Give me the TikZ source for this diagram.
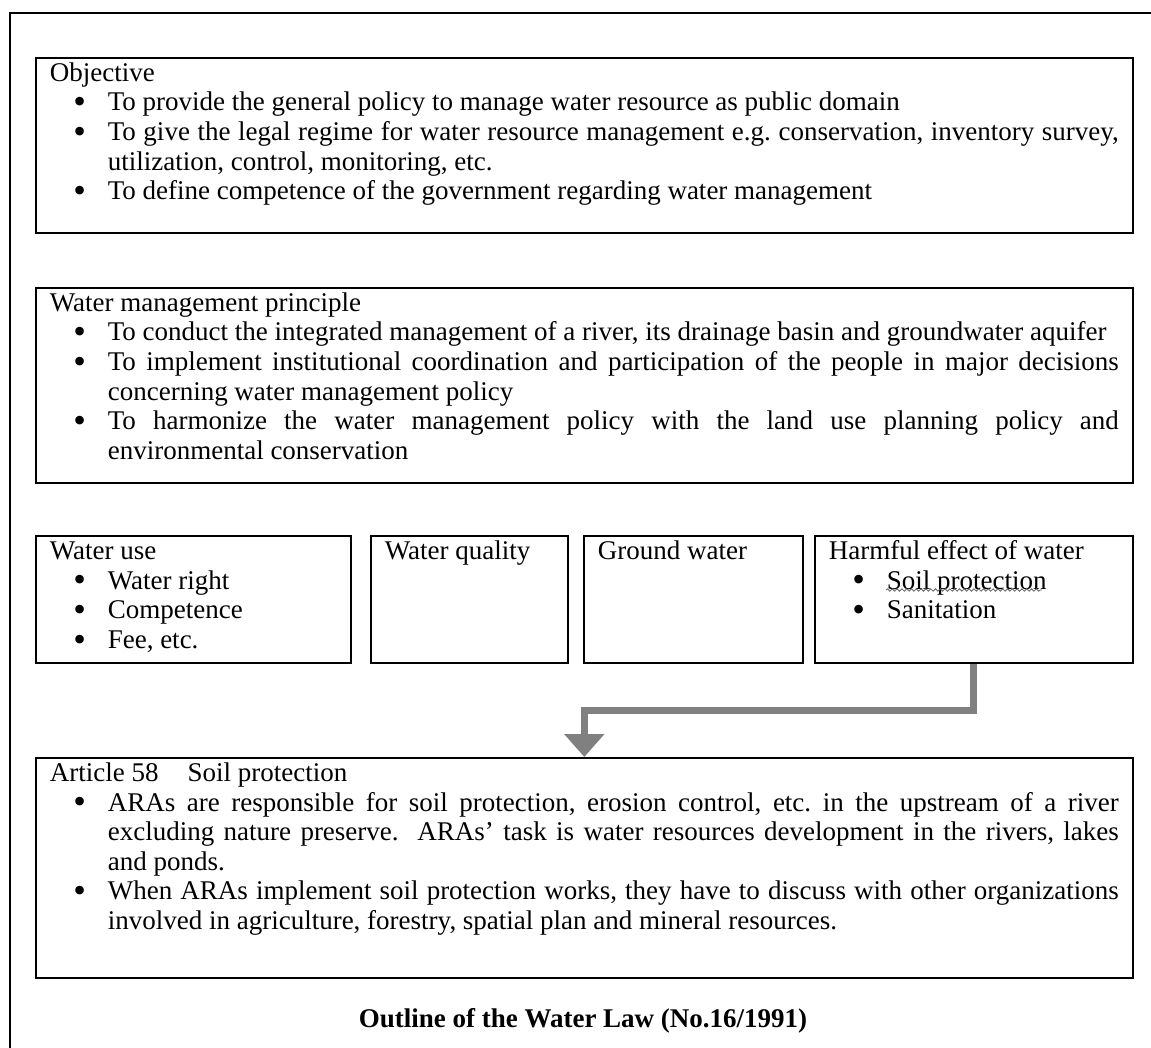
\documentclass[tikz,border=0pt]{standalone}
\usepackage{fontspec}
\setmainfont{Liberation Serif}
\usetikzlibrary{arrows.meta,decorations.pathmorphing}
\tolerance=10000
\hyphenpenalty=10000
\frenchspacing

\newcommand{\dotmark}{\smash{\raisebox{-1.4pt}{\fontsize{18pt}{10pt}\selectfont\textbullet}}}
\newenvironment{dotlist}{%
  \begin{list}{\dotmark}{%
    \setlength{\topsep}{0pt}\setlength{\partopsep}{0pt}%
    \setlength{\itemsep}{0pt}\setlength{\parsep}{0pt}%
    \setlength{\leftmargin}{29pt}\setlength{\labelwidth}{29pt}%
    \setlength{\labelsep}{0pt}\setlength{\itemindent}{0pt}%
    \renewcommand{\makelabel}[1]{\hskip11.8pt##1\hfil}}}%
  {\end{list}}

\tikzset{
  panel/.style={draw, line width=0.8pt, anchor=north west, align=justify,
    inner xsep=7pt, inner ysep=3pt, text height=8.8pt,
    font=\fontsize{13.5pt}{14.8pt}\selectfont},
  flow/.style={draw=black!50, line width=3.5pt,
    -{Triangle[width=19.5pt,length=11.5pt]}},
  squiggle/.style={draw=black!60, line width=0.4pt, decorate,
    decoration={snake, amplitude=0.6pt, segment length=2.4pt}},
}

\begin{document}
\begin{tikzpicture}[x=0.5pt, y=-0.5pt]
  \useasboundingbox (0,0) rectangle (1151,1048);
  % Outer frame (only top and left edge on the page)
  \draw[line width=1pt] (10,1048) -- (10,13) -- (1151,13);
  % Objective
  \node[panel, text width=534.5pt, text depth=72.7pt] (objective) at (35,57) {Objective
    \begin{dotlist}
      \item To provide the general policy to manage water resource as public domain
      \item To give the legal regime for water resource management e.g. conservation, inventory survey,\linebreak
        utilization, control, monitoring, etc.
      \item To define competence of the government regarding water management
    \end{dotlist}};
  % Principle
  \node[panel, text width=534.5pt, text depth=82.7pt] (principle) at (35,287) {Water management principle
    \begin{dotlist}
      \item To conduct the integrated management of a river, its drainage basin and groundwater aquifer
      \item To implement institutional coordination and participation of the people in major decisions\linebreak
        concerning water management policy
      \item To harmonize the water management policy with the land use planning policy and\linebreak
        environmental conservation
    \end{dotlist}};
  % Four topics
  \node[panel, text width=143.5pt, text depth=48.7pt] (use) at (35,535) {Water use
    \begin{dotlist}
      \item Water right
      \item Competence
      \item Fee, etc.
    \end{dotlist}};
  \node[panel, text width=84.5pt, text depth=48.7pt] (quality) at (370,535) {Water quality};
  \node[panel, text width=95.5pt, text depth=48.7pt] (ground) at (583,535) {Ground water};
  \node[panel, text width=145pt, text depth=48.7pt] (harmful) at (814,535) {Harmful effect of water
    \begin{dotlist}
      \item Soil protection
      \item Sanitation
    \end{dotlist}};
  \draw[squiggle] ([shift={(72,55)}]harmful.north west) -- ++(156,0);
  % Article 58
  \node[panel, text width=534.5pt, text depth=95.2pt] (article) at (35,757) {Article 58\hspace{14.5pt}Soil protection
    \begin{dotlist}
      \item ARAs are responsible for soil protection, erosion control, etc. in the upstream of a river\linebreak
        excluding nature preserve.\ \ ARAs' task is water resources development in the rivers, lakes\linebreak
        and ponds.
      \item When ARAs implement soil protection works, they have to discuss with other organizations\linebreak
        involved in agriculture, forestry, spatial plan and mineral resources.
    \end{dotlist}};
  \draw[flow] (harmful.south) -- ++(0,47) -| (article.north);
  % Caption
  \node[font=\fontsize{13.5pt}{14.8pt}\selectfont\bfseries] (caption) at (583,1021) {Outline of the Water Law (No.16/1991)};
\end{tikzpicture}
\end{document}
